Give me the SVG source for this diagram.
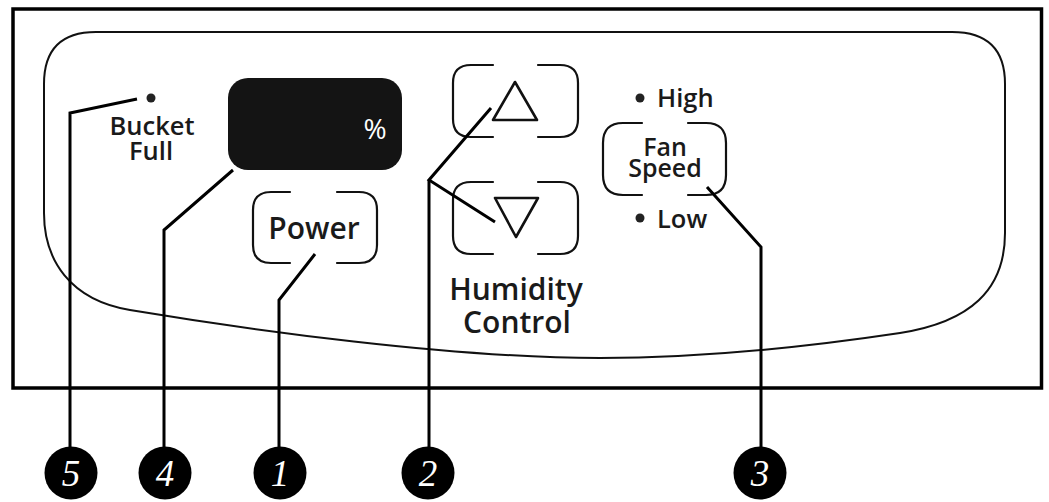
<svg xmlns="http://www.w3.org/2000/svg" width="1049" height="502" viewBox="0 0 1049 502">
<style>
.frame{fill:none;stroke:#000;stroke-width:3.5}
.panel{fill:none;stroke:#111;stroke-width:2}
.btn{fill:none;stroke:#111;stroke-width:2.2;stroke-linecap:round}
.tri{fill:none;stroke:#111;stroke-width:2.6;stroke-linejoin:round}
.lbl{font-family:"Open Sans","DejaVu Sans",sans-serif;font-weight:600;fill:#1a1a1a;text-anchor:middle}
.lead{fill:none;stroke:#000;stroke-width:3;stroke-linejoin:miter}
.num{fill:#000}
.numt{font-family:"Liberation Serif","DejaVu Serif",serif;font-style:italic;font-size:37px;fill:#fff;text-anchor:middle}
.dot{fill:#222}
</style>
<rect class="frame" x="13" y="9" width="1028.5" height="379"/>
<path id="panel" class="panel" d="M 96,32 H 952 Q 1005,32 1005,84 V 233 C 1005,290 970,322 900,333 C 800,348 700,358 600,358 C 450,358 250,330 130,310 C 70,300 44,260 44,213 V 84 Q 44,32 96,32 Z"/>

<g id="bucket-full">
<circle class="dot" cx="151" cy="98" r="4.5"/>
<text class="lbl" font-size="25.5"><tspan x="152" y="135">Bucket</tspan><tspan x="151" y="160">Full</tspan></text>
</g>

<g id="display">
<rect x="228" y="78" width="174" height="92" rx="20" fill="#141414"/>
<text x="375" y="139" font-family="Open Sans, DejaVu Sans, sans-serif" font-weight="500" font-size="28" fill="#fff" text-anchor="middle">%</text>
</g>

<g id="power">
<path class="btn" d="M 290,192 H 271 Q 253,192 253,210 V 245 Q 253,263 271,263 H 290 M 337,192 H 359 Q 377,192 377,210 V 245 Q 377,263 359,263 H 337"/>
<text class="lbl" x="314" y="239" font-size="30">Power</text>
</g>

<g id="humidity-up">
<path class="btn" d="M 493,65 H 471 Q 453,65 453,83 V 119 Q 453,137 471,137 H 493 M 538,65 H 560 Q 578,65 578,83 V 119 Q 578,137 560,137 H 538"/>
<polygon class="tri" points="515,82 537,120 493,120"/>
</g>

<g id="humidity-down">
<path class="btn" d="M 493,182 H 471 Q 453,182 453,200 V 236 Q 453,254 471,254 H 493 M 538,182 H 560 Q 578,182 578,200 V 236 Q 578,254 560,254 H 538"/>
<polygon class="tri" points="495,198 538,198 516,237"/>
</g>

<g id="humidity-label">
<text class="lbl" font-size="30"><tspan x="516" y="300">Humidity</tspan><tspan x="517" y="333">Control</tspan></text>
</g>

<g id="fan-speed">
<circle class="dot" cx="640" cy="98" r="4.5"/>
<text class="lbl" x="657" y="107" font-size="25.5" style="text-anchor:start">High</text>
<path class="btn" d="M 642,123 H 623 Q 603,123 603,143 V 175 Q 603,195 623,195 H 642 M 688,123 H 706 Q 726,123 726,143 V 175 Q 726,195 706,195 H 688"/>
<text class="lbl" font-size="25"><tspan x="665" y="156">Fan</tspan><tspan x="665" y="177">Speed</tspan></text>
<circle class="dot" cx="640" cy="218" r="4.5"/>
<text class="lbl" x="657" y="228" font-size="25.5" style="text-anchor:start">Low</text>
</g>

<g id="connectors">
<polyline class="lead" points="70,447 70,113 137,99"/>
<polyline class="lead" points="164,447 164,230 233,170"/>
<polyline class="lead" points="279,447 279,300 315,254"/>
<polyline class="lead" points="491,108 429,180 495,222"/>
<line class="lead" x1="429" y1="180" x2="429" y2="447"/>
<polyline class="lead" points="761,447 761,247 707,187"/>
</g>

<g id="callout-5"><circle class="num" cx="71" cy="473" r="26.5"/><text class="numt" x="71" y="486">5</text></g>
<g id="callout-4"><circle class="num" cx="165" cy="473" r="26.5"/><text class="numt" x="165" y="486">4</text></g>
<g id="callout-1"><circle class="num" cx="280" cy="473" r="26.5"/><text class="numt" x="280" y="486">1</text></g>
<g id="callout-2"><circle class="num" cx="428" cy="473" r="26.5"/><text class="numt" x="428" y="486">2</text></g>
<g id="callout-3"><circle class="num" cx="760" cy="473" r="26.5"/><text class="numt" x="760" y="486">3</text></g>
</svg>
